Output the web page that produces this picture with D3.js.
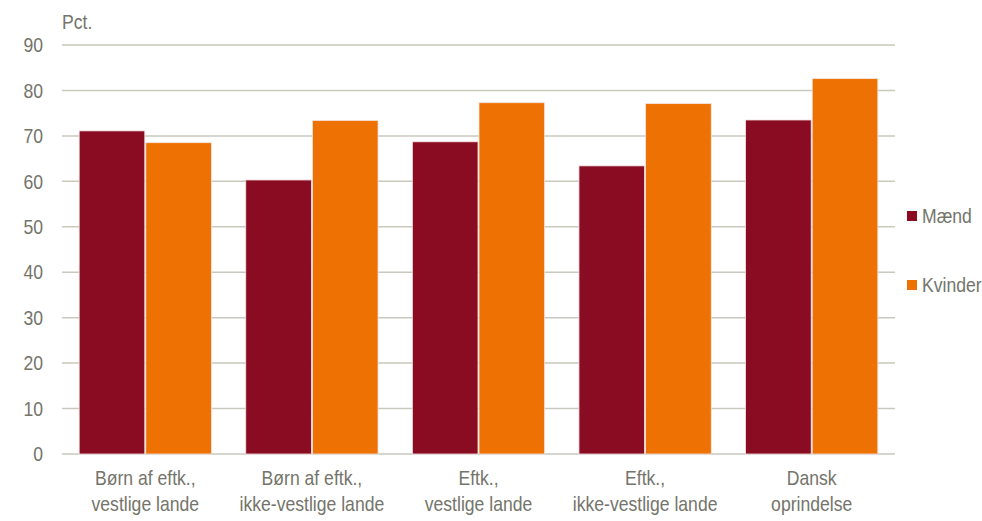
<!DOCTYPE html>
<html><head><meta charset="utf-8">
<script src="https://cdn.jsdelivr.net/npm/d3@7"></script>
<style>body{margin:0;background:#fff}svg{display:block}text{font-family:"Liberation Sans",Arial,sans-serif;fill:#74746a}</style>
</head><body><svg id="c" width="982" height="521"></svg>
<script>
const categories = [["Børn af eftk.,","vestlige lande"],["Børn af eftk.,","ikke-vestlige lande"],["Eftk.,","vestlige lande"],["Eftk.,","ikke-vestlige lande"],["Dansk","oprindelse"]];
const series = ["Mænd","Kvinder"];
const maend = [71.1, 60.3, 68.7, 63.4, 73.5];
const kvinder = [68.5, 73.4, 77.3, 77.1, 82.6];
const yTicks = [0,10,20,30,40,50,60,70,80,90];
const colors = ["#8a0c22","#ee7203"];

const FS = 20, SX = 0.88;
const svg = d3.select("#c");
const L = 62, R = 895, T = 45, B = 454;
const x = d3.scaleBand().domain(d3.range(categories.length)).range([L,R]).paddingInner(0.2).paddingOuter(0.1);
const x1 = d3.scaleBand().domain(series).range([0,x.bandwidth()]);
const y = d3.scaleLinear().domain([0,90]).range([B,T]);

function label(px, py, str, anchor, dy){
  return svg.append("text").attr("transform",`translate(${px},${py}) scale(${SX},1)`)
    .attr("text-anchor",anchor||"start").attr("dy",dy||0).attr("font-size",FS).text(str);
}

const g = svg.append("g");
g.selectAll("line.grid").data(yTicks).join("line")
  .attr("x1",L).attr("x2",R).attr("y1",d=>y(d)).attr("y2",d=>y(d))
  .attr("stroke","#c9c9bf").attr("stroke-width",1.5);
yTicks.forEach(d=>label(43, y(d), d, "end", "0.36em"));
label(62, 29, "Pct.");

const vals = [maend,kvinder];
series.forEach((s,si)=>{
  g.selectAll("rect.s"+si).data(vals[si]).join("rect")
    .attr("x",(d,i)=>x(i)+x1(s)+0.5).attr("width",x1.bandwidth()-1)
    .attr("y",d=>y(d)).attr("height",d=>B-y(d))
    .attr("fill",colors[si]).attr("stroke","#f4e4e4").attr("stroke-width",0.8);
});

categories.forEach((c,i)=>{
  c.forEach((line,li)=>label(x(i)+x.bandwidth()/2, 485+li*26, line, "middle"));
});

series.forEach((s,i)=>{
  const cy = 216 + i*69;
  svg.append("rect").attr("x",907).attr("y",cy-5).attr("width",10).attr("height",10).attr("fill",colors[i]);
  label(922, cy, s, "start", "0.36em");
});
</script></body></html>
